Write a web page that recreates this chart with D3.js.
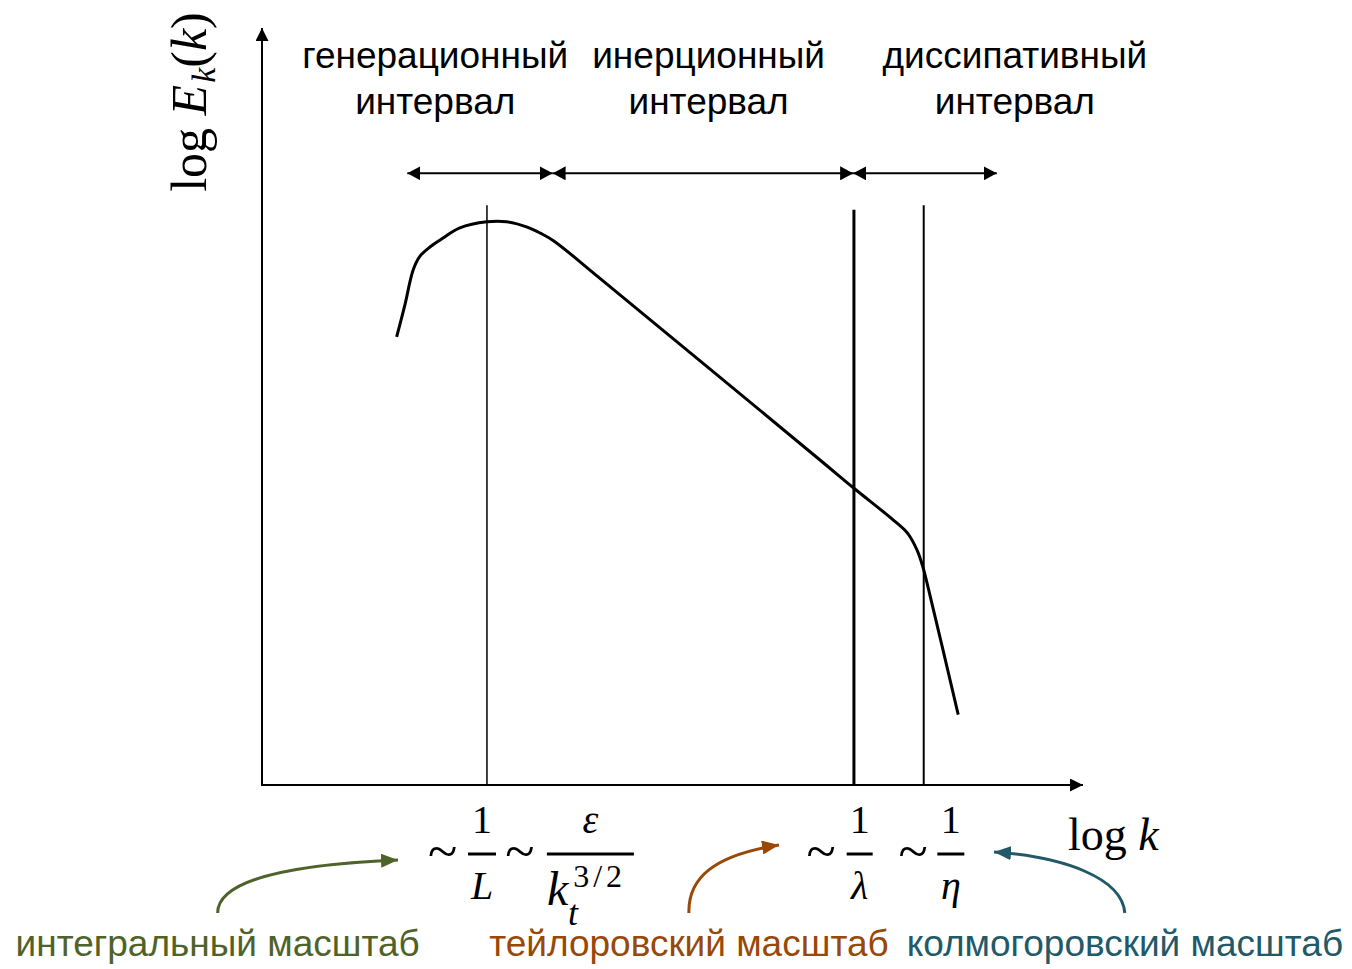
<!DOCTYPE html>
<html>
<head>
<meta charset="utf-8">
<script src="https://cdn.jsdelivr.net/npm/d3@7"></script>
<style>
  html, body { margin: 0; padding: 0; background: #fff; }
  svg { display: block; }
</style>
</head>
<body>
<svg id="chart" width="1352" height="969"></svg>
<script>
// Schematic energy spectrum log E(k) vs log k, in arbitrary units (0..10 on both axes)
const spectrumLogK = [1.64, 1.74, 1.84, 1.92, 2.05, 2.17, 2.41, 2.74, 2.98, 3.23, 3.39, 3.55, 4.12, 6.80, 7.21, 7.69, 7.86, 7.98, 8.05, 8.10, 8.48];
const spectrumLogE = [5.92, 6.34, 6.80, 6.98, 7.11, 7.20, 7.36, 7.44, 7.44, 7.37, 7.29, 7.19, 6.69, 4.29, 3.92, 3.50, 3.33, 3.10, 2.88, 2.67, 0.93];

// Characteristic wavenumbers: integral, Taylor, Kolmogorov
const scaleLogK = [2.74, 7.21, 8.06];
const scaleLineTop = [7.66, 7.60, 7.66];

// Interval boundaries along the arrow row and their captions
const intervalEdges = [1.77, 3.54, 7.20, 8.95];
const intervalRow = 8.08;
const intervalCaptions = [["генерационный", "интервал"], ["инерционный", "интервал"], ["диссипативный", "интервал"]];
const intervalCaptionK = [2.11, 5.44, 9.17];

// Scale names under the axis
const scaleNames = ["интегральный масштаб", "тейлоровский масштаб", "колмогоровский масштаб"];
const scaleNameK = [-0.54, 5.20, 10.51];
const scaleColors = ["#4F6228", "#984807", "#215968"];

const svg = d3.select("#chart");
const x = d3.scaleLinear().domain([0, 10]).range([262, 1083]);
const y = d3.scaleLinear().domain([0, 10]).range([785, 28]);

const defs = svg.append("defs");
function marker(id, color, len, half) {
  defs.append("marker")
    .attr("id", id)
    .attr("markerUnits", "userSpaceOnUse")
    .attr("viewBox", `0 ${-half} ${len} ${2 * half}`)
    .attr("refX", len).attr("refY", 0)
    .attr("markerWidth", len).attr("markerHeight", 2 * half)
    .attr("orient", "auto-start-reverse")
    .append("path")
    .attr("d", `M0,${-half}L${len},0L0,${half}Z`)
    .attr("fill", color);
}
marker("axisHead", "#000", 13, 6.5);
marker("rangeHead", "#000", 13, 7);
scaleColors.forEach((c, i) => marker("nameHead" + i, c, 17, 7));

// Axes
svg.append("line")
  .attr("x1", x(0)).attr("y1", y(0)).attr("x2", x(0)).attr("y2", y(10))
  .attr("stroke", "#000").attr("stroke-width", 2)
  .attr("marker-end", "url(#axisHead)");
svg.append("line")
  .attr("x1", x(0) - 1).attr("y1", y(0)).attr("x2", x(10)).attr("y2", y(0))
  .attr("stroke", "#000").attr("stroke-width", 2)
  .attr("marker-end", "url(#axisHead)");

// Vertical markers of the characteristic scales
const lineWidths = [1.5, 3, 2];
svg.selectAll("line.scale")
  .data(scaleLogK)
  .join("line")
  .attr("class", "scale")
  .attr("x1", d => x(d)).attr("x2", d => x(d))
  .attr("y1", y(0)).attr("y2", (d, i) => y(scaleLineTop[i]))
  .attr("stroke", "#000")
  .attr("stroke-width", (d, i) => lineWidths[i]);

// Spectrum curve
const pts = spectrumLogK.map((k, i) => [k, spectrumLogE[i]]);
svg.append("path")
  .datum(pts)
  .attr("d", d3.line().x(d => x(d[0])).y(d => y(d[1])).curve(d3.curveCatmullRom.alpha(0.5)))
  .attr("fill", "none")
  .attr("stroke", "#000")
  .attr("stroke-width", 3)
  .attr("stroke-linejoin", "round");

// Interval arrows
d3.pairs(intervalEdges).forEach(([a, b]) => {
  svg.append("line")
    .attr("x1", x(a)).attr("x2", x(b))
    .attr("y1", y(intervalRow)).attr("y2", y(intervalRow))
    .attr("stroke", "#000").attr("stroke-width", 2)
    .attr("marker-start", "url(#rangeHead)")
    .attr("marker-end", "url(#rangeHead)");
});

// Interval captions
const sans = "'Liberation Sans', Arial, sans-serif";
intervalCaptions.forEach((lines, i) => {
  const t = svg.append("text")
    .attr("text-anchor", "middle")
    .attr("font-family", sans)
    .attr("font-size", 37)
    .attr("fill", "#000");
  lines.forEach((s, j) => {
    t.append("tspan").attr("x", x(intervalCaptionK[i])).attr("y", 68 + j * 46).text(s);
  });
});

// Axis titles
const serif = "'Liberation Serif', 'Times New Roman', serif";
const yTitle = svg.append("text")
  .attr("transform", `translate(206,${102}) rotate(-90)`)
  .attr("text-anchor", "middle")
  .attr("font-family", serif)
  .attr("font-size", 50)
  .attr("fill", "#000");
yTitle.append("tspan").text("log ");
yTitle.append("tspan").attr("font-style", "italic").text("E");
yTitle.append("tspan").attr("font-style", "italic").attr("font-size", 34).attr("dy", 9).attr("dx", 2).text("k");
yTitle.append("tspan").attr("dy", -9).text("(");
yTitle.append("tspan").attr("font-style", "italic").text("k");
yTitle.append("tspan").text(")");

const xTitle = svg.append("text")
  .attr("x", 1068).attr("y", y(0) + 65)
  .attr("font-family", serif)
  .attr("font-size", 46)
  .attr("fill", "#000");
xTitle.append("tspan").text("log ");
xTitle.append("tspan").attr("font-style", "italic").text("k");

// Scale formulas under the axis
const numY = y(0) + 48, barY = y(0) + 69, denY = y(0) + 114;
function mathText(px, py, s, opts = {}) {
  return svg.append("text")
    .attr("x", px).attr("y", py)
    .attr("text-anchor", opts.anchor || "middle")
    .attr("font-family", serif)
    .attr("font-size", opts.size || 40)
    .attr("font-style", opts.italic ? "italic" : "normal")
    .attr("fill", "#000")
    .text(s);
}
function bar(cx, w) {
  svg.append("line")
    .attr("x1", cx - w / 2).attr("x2", cx + w / 2)
    .attr("y1", barY).attr("y2", barY)
    .attr("stroke", "#000").attr("stroke-width", 3);
}
function tilde(k) { mathText(x(k), barY + 16, "~", { size: 54 }); }

// ~ 1/L ~ ε / k_t^{3/2}
tilde(2.20);
mathText(x(2.68), numY, "1");
bar(x(2.68), 28);
mathText(x(2.68), denY, "L", { italic: true });
tilde(3.14);
mathText(x(4.00), numY, "ε", { italic: true });
bar(x(4.00), 87);
const kt = svg.append("text")
  .attr("x", x(3.47)).attr("y", denY + 6)
  .attr("font-family", serif)
  .attr("fill", "#000");
kt.append("tspan").attr("font-style", "italic").attr("font-size", 48).text("k");
kt.append("tspan").attr("font-size", 32).attr("letter-spacing", 4).attr("dx", 5).attr("dy", -18).text("3/2");
kt.append("tspan").attr("font-style", "italic").attr("font-size", 36).attr("dx", -58).attr("dy", 38).text("t");

// ~ 1/λ ~ 1/η
tilde(6.81);
mathText(x(7.28), numY, "1");
bar(x(7.28), 26);
mathText(x(7.28), denY, "λ", { italic: true });
tilde(7.93);
mathText(x(8.39), numY, "1");
bar(x(8.39), 27);
mathText(x(8.39), denY, "η", { italic: true });

// Scale names and their pointer arrows
const nameY = 956;
scaleNames.forEach((s, i) => {
  svg.append("text")
    .attr("x", x(scaleNameK[i])).attr("y", nameY)
    .attr("text-anchor", "middle")
    .attr("font-family", sans)
    .attr("font-size", 37)
    .attr("fill", scaleColors[i])
    .text(s);
});

const pointerTargets = [[398, 860], [779, 845], [994, 852]];
const pointerBends = [
  [[0, -35], [82, -49]],
  [[-1, -35], [25, -58]],
  [[-3, -35], [-60, -56]]
];
scaleNames.forEach((s, i) => {
  const x0 = x(scaleNameK[i]), y0 = 913;
  const [c1, c2] = pointerBends[i];
  const [tx, ty] = pointerTargets[i];
  const p = d3.path();
  p.moveTo(x0, y0);
  p.bezierCurveTo(x0 + c1[0], y0 + c1[1], x0 + c2[0], y0 + c2[1], tx, ty);
  svg.append("path")
    .attr("d", p.toString())
    .attr("fill", "none")
    .attr("stroke", scaleColors[i])
    .attr("stroke-width", 3)
    .attr("marker-end", `url(#nameHead${i})`);
});
</script>
</body>
</html>
